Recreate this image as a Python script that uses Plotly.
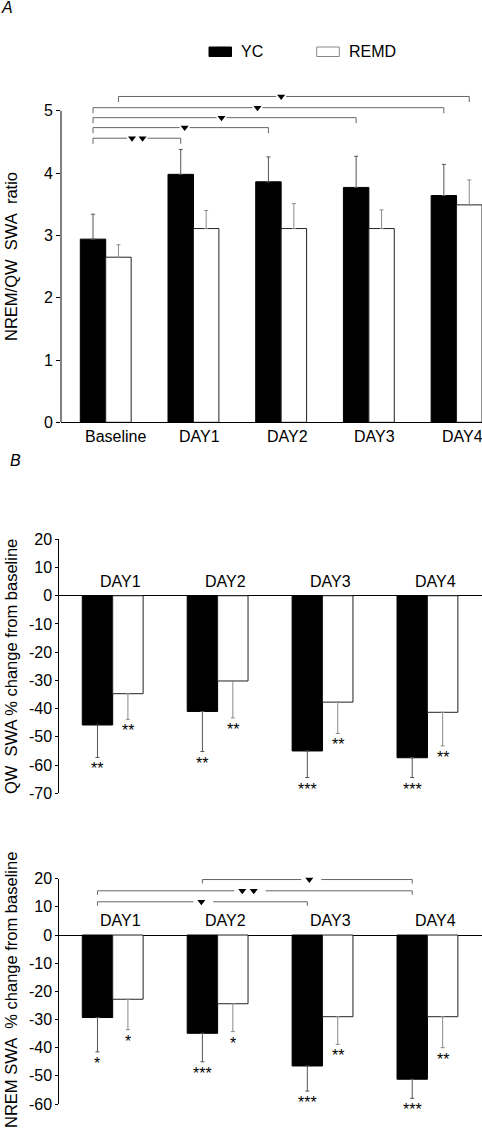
import plotly.graph_objects as go

W, H = 482, 1128
FONT = "Liberation Sans, Arial, sans-serif"

# ---------------- data ----------------
# Panel A: NREM/QW SWA ratio
cats_a = ["Baseline", "DAY1", "DAY2", "DAY3", "DAY4"]
yc_ratio = [2.94, 3.98, 3.86, 3.77, 3.64]
yc_ratio_err = [0.40, 0.40, 0.40, 0.50, 0.50]
remd_ratio = [2.65, 3.11, 3.11, 3.11, 3.49]
remd_ratio_err = [0.20, 0.29, 0.40, 0.30, 0.40]
a_ticks = [0, 1, 2, 3, 4, 5]

# Panel A significance brackets (category index, series, level, marker positions)
brk_a_start = [0, 0, 0, 0, 0]
brk_a_end = [4, 4, 3, 2, 1]
brk_a_series = ["REMD", "YC", "YC", "YC", "YC"]
brk_a_level = [5.23, 5.05, 4.89, 4.73, 4.56]
brk_a_marks = [[2.0], [1.73], [1.32], [0.90], [0.30, 0.42]]

# Panel B: QW SWA % change from baseline
cats_b = ["DAY1", "DAY2", "DAY3", "DAY4"]
yc_qw = [-45.8, -41.0, -55.0, -57.4]
yc_qw_err = [11.5, 14.2, 9.4, 7.0]
remd_qw = [-34.7, -30.2, -37.7, -41.3]
remd_qw_err = [9.1, 13.1, 11.1, 11.9]
yc_qw_sig = ["**", "**", "***", "***"]
remd_qw_sig = ["**", "**", "**", "**"]
qw_ticks = [20, 10, 0, -10, -20, -30, -40, -50, -60, -70]

# Panel C: NREM SWA % change from baseline
yc_nrem = [-29.3, -34.9, -46.5, -51.2]
yc_nrem_err = [12.2, 10.1, 8.9, 6.8]
remd_nrem = [-22.8, -24.4, -29.0, -29.0]
remd_nrem_err = [10.8, 9.9, 9.8, 11.0]
yc_nrem_sig = ["*", "***", "***", "***"]
remd_nrem_sig = ["*", "*", "**", "**"]
nrem_ticks = [20, 10, 0, -10, -20, -30, -40, -50, -60]

brk_c_start = [1, 0, 0]
brk_c_end = [3, 3, 2]
brk_c_series = ["YC", "YC", "YC"]
brk_c_level = [19.7, 15.7, 11.8]
brk_c_marks = [[1.874], [1.235, 1.344], [0.845]]

# ---------------- layout geometry ----------------
BARGAP = 0.42
BW = (1 - BARGAP) / 2
OFF = {"YC": -BW / 2, "REMD": BW / 2}


def px(x):
    return x / W


def py(y):
    return 1 - y / H


fig = go.Figure()

GRAY_YC = "#555555"
GRAY_RE = "#8a8a8a"


def add_pair(xa, ya, yc, yc_err, remd, remd_err, up):
    n = len(yc)
    xs = list(range(n))
    for name, vals, err, fill, ecol, lcol in [
        ("YC", yc, yc_err, "black", GRAY_YC, "black"),
        ("REMD", remd, remd_err, "white", GRAY_RE, "#222222"),
    ]:
        if up:
            ed = dict(type="data", symmetric=False, array=err, arrayminus=[0] * n,
                      color=ecol, thickness=1, width=2)
        else:
            ed = dict(type="data", symmetric=False, array=[0] * n, arrayminus=err,
                      color=ecol, thickness=1, width=2)
        fig.add_trace(go.Bar(
            x=xs, y=vals, name=name, xaxis=xa, yaxis=ya,
            marker=dict(color=fill, line=dict(color=lcol, width=1)),
            error_y=ed, showlegend=False, offsetgroup=name,
        ))


def add_stars(xa, ya, vals, errs, sig, series):
    for i, (v, e, s) in enumerate(zip(vals, errs, sig)):
        fig.add_annotation(x=i + OFF[series], y=v - e, xref=xa, yref=ya, text=s,
                           showarrow=False, xanchor="center", yanchor="top", yshift=-1,
                           font=dict(family=FONT, size=16, color="black"))


def add_brackets(xa, ya, starts, ends, series, levels, marks, tick, gapl, gapr):
    tx, ty = [], []
    lc = dict(color="#666666", width=1)
    for s, e, ser, lv, mk in zip(starts, ends, series, levels, marks):
        x0 = s + OFF[ser]
        x1 = e + OFF[ser]
        m0, m1 = min(mk), max(mk)
        for a, b in [(x0, m0 - gapl), (m1 + gapr, x1)]:
            fig.add_shape(type="line", xref=xa, yref=ya, x0=a, x1=b, y0=lv, y1=lv, line=lc)
        fig.add_shape(type="line", xref=xa, yref=ya, x0=x0, x1=x0, y0=lv, y1=lv - tick, line=lc)
        fig.add_shape(type="line", xref=xa, yref=ya, x0=x1, x1=x1, y0=lv, y1=lv - tick, line=lc)
        for m in mk:
            tx.append(m)
            ty.append(lv)
    fig.add_trace(go.Scatter(
        x=tx, y=ty, mode="markers", xaxis=xa, yaxis=ya,
        marker=dict(symbol="triangle-down", size=7, color="black"),
        cliponaxis=False, showlegend=False, hoverinfo="skip",
    ))


# Panel A
add_pair("x", "y", yc_ratio, yc_ratio_err, remd_ratio, remd_ratio_err, up=True)
add_brackets("x", "y", brk_a_start, brk_a_end, brk_a_series, brk_a_level, brk_a_marks,
             0.09, 0.057, 0.057)

# Panel B
add_pair("x2", "y2", yc_qw, yc_qw_err, remd_qw, remd_qw_err, up=False)
add_stars("x2", "y2", yc_qw, yc_qw_err, yc_qw_sig, "YC")
add_stars("x2", "y2", remd_qw, remd_qw_err, remd_qw_sig, "REMD")

# Panel C
add_pair("x3", "y3", yc_nrem, yc_nrem_err, remd_nrem, remd_nrem_err, up=False)
add_stars("x3", "y3", yc_nrem, yc_nrem_err, yc_nrem_sig, "YC")
add_stars("x3", "y3", remd_nrem, remd_nrem_err, remd_nrem_sig, "REMD")
add_brackets("x3", "y3", brk_c_start, brk_c_end, brk_c_series, brk_c_level, brk_c_marks,
             1.4, 0.076, 0.114)

# ---------------- axes ----------------
A_Y0, A_PPU = 422.3, 62.3
A_TOP = 5.3
B_TOP, B_BOT = 539.3, 793.3
C_TOP, C_BOT = 878.7, 1104.0

tickfont = dict(family=FONT, size=16, color="black")

fig.update_layout(
    margin=dict(l=0, r=0, t=0, b=0, autoexpand=False),
    paper_bgcolor="white", plot_bgcolor="white",
    barmode="group", bargap=BARGAP, bargroupgap=0,
    font=dict(family=FONT, size=14, color="black"),
    showlegend=False,
    xaxis=dict(domain=[px(61), 1], range=[-0.51, 4.29], tickmode="array",
               tickvals=list(range(len(cats_a))), showticklabels=False, ticks="",
               showline=True, linecolor="black", linewidth=1, showgrid=False,
               zeroline=False, anchor="y"),
    yaxis=dict(domain=[py(A_Y0), py(A_Y0 - A_TOP * A_PPU)], range=[0, A_TOP],
               tickmode="array", tickvals=a_ticks, ticktext=[str(v) for v in a_ticks],
               ticks="outside", ticklen=4,
               tickcolor="black", showline=False, showgrid=False, zeroline=False,
               tickfont=tickfont, anchor="x"),
    xaxis2=dict(domain=[px(59.3), 1], range=[-0.509, 3.52], showticklabels=False,
                ticks="", showline=False, showgrid=False, zeroline=False, anchor="y2"),
    yaxis2=dict(domain=[py(B_BOT), py(B_TOP)], range=[-70, 20], tickmode="array",
                tickvals=qw_ticks, ticktext=[str(v) for v in qw_ticks],
                ticks="outside", ticklen=3, tickcolor="black",
                showline=True, linecolor="black", linewidth=1, showgrid=False,
                zeroline=True, zerolinecolor="black", zerolinewidth=1,
                tickfont=tickfont, anchor="x2"),
    xaxis3=dict(domain=[px(59.3), 1], range=[-0.509, 3.52], showticklabels=False,
                ticks="", showline=False, showgrid=False, zeroline=False, anchor="y3"),
    yaxis3=dict(domain=[py(C_BOT), py(C_TOP)], range=[-60, 20], tickmode="array",
                tickvals=nrem_ticks, ticktext=[str(v) for v in nrem_ticks],
                ticks="outside", ticklen=3, tickcolor="black",
                showline=True, linecolor="black", linewidth=1, showgrid=False,
                zeroline=True, zerolinecolor="black", zerolinewidth=1,
                tickfont=tickfont, anchor="x3"),
)

# Panel A y-axis line from 0 to 5 only
fig.add_shape(type="line", xref="paper", yref="y", x0=px(61), x1=px(61), y0=0, y1=5,
              line=dict(color="black", width=1))

# Category labels for panel A (below axis)
a_label_shift = [10, 6, 6, 6, 6]
for i, c in enumerate(cats_a):
    fig.add_annotation(x=i, y=0, xref="x", yref="y", text=c, showarrow=False,
                       xanchor="center", yanchor="top", xshift=a_label_shift[i], yshift=-4,
                       font=dict(family=FONT, size=16, color="black"))

# Category labels for panels B and C (above zero line)
for xa, ya in [("x2", "y2"), ("x3", "y3")]:
    for i, c in enumerate(cats_b):
        fig.add_annotation(x=i, y=0, xref=xa, yref=ya, text=c, showarrow=False,
                           xanchor="center", yanchor="bottom", xshift=8, yshift=4,
                           font=dict(family=FONT, size=16, color="black"))

# Axis titles
titles = [
    ("NREM/QW\u00a0 SWA\u00a0 ratio", 257),
    ("QW\u00a0 SWA % change from baseline", 667),
    ("NREM SWA\u00a0 % change from baseline", 990),
]
for t, yc in titles:
    fig.add_annotation(x=px(11), y=py(yc), xref="paper", yref="paper", text=t,
                       textangle=-90, showarrow=False, xanchor="center", yanchor="middle",
                       font=dict(family=FONT, size=16.5, color="black"))

# Panel letters
fig.add_annotation(x=px(7), y=py(7), xref="paper", yref="paper", text="<i>A</i>",
                   showarrow=False, xanchor="center", yanchor="middle",
                   font=dict(family=FONT, size=16, color="black"))
fig.add_annotation(x=px(15), y=py(461), xref="paper", yref="paper", text="<i>B</i>",
                   showarrow=False, xanchor="center", yanchor="middle",
                   font=dict(family=FONT, size=16, color="black"))

# Legend (drawn manually)
fig.add_shape(type="rect", xref="paper", yref="paper", x0=px(209), x1=px(231.5),
              y0=py(56.5), y1=py(47), fillcolor="black", line=dict(color="black", width=1))
fig.add_shape(type="rect", xref="paper", yref="paper", x0=px(316.7), x1=px(339.3),
              y0=py(56.5), y1=py(47), fillcolor="white", line=dict(color="#888888", width=1))
fig.add_annotation(x=px(239), y=py(51.5), xref="paper", yref="paper", text="YC",
                   showarrow=False, xanchor="left", yanchor="middle",
                   font=dict(family=FONT, size=16, color="black"))
fig.add_annotation(x=px(347), y=py(51.5), xref="paper", yref="paper", text="REMD",
                   showarrow=False, xanchor="left", yanchor="middle",
                   font=dict(family=FONT, size=16, color="black"))

fig.write_html(
    "out.html",
    config={"displayModeBar": False, "responsive": False},
    default_width="482px",
    default_height="1128px; position:absolute; left:0; top:0; margin:0",
)
